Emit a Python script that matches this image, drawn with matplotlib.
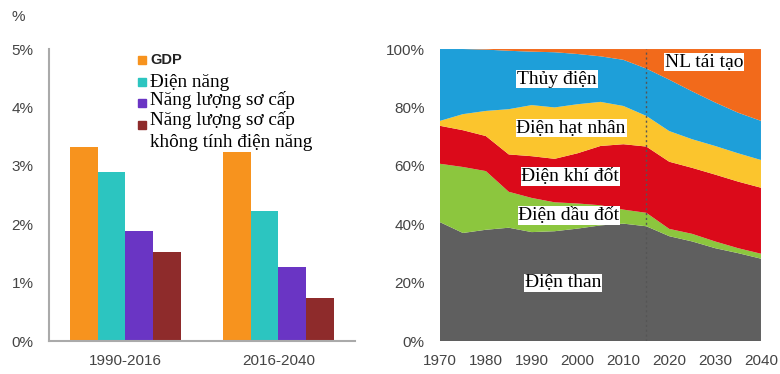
import matplotlib.pyplot as plt
import matplotlib.patches as mpatches
import numpy as np

# left chart: growth rates (%/year)
periods = ['1990-2016', '2016-2040']
gdp = [3.33, 3.23]
dien_nang = [2.89, 2.22]
nl_so_cap = [1.89, 1.26]
nl_khong_dien = [1.53, 0.73]
bar_labels = ['GDP', 'Điện năng', 'Năng lượng sơ cấp', 'Năng lượng sơ cấp\nkhông tính điện năng']
bar_colors = ['#F7931E', '#2CC5C0', '#6A35C4', '#8E2B2B']

# right chart: power generation mix (cumulative share read at top of each layer)
years = [1970, 1975, 1980, 1985, 1990, 1995, 2000, 2005, 2010, 2015, 2020, 2025, 2030, 2035, 2040]
top_than = [40.7, 37.0, 38.1, 38.8, 37.3, 37.6, 38.5, 39.6, 40.2, 39.3, 35.9, 34.1, 31.8, 30.1, 28.2]
top_dau = [60.7, 59.6, 58.2, 51.1, 49.0, 47.5, 47.1, 46.5, 45.0, 43.9, 38.4, 36.7, 34.1, 31.8, 29.9]
top_khi = [73.7, 72.2, 70.2, 63.9, 63.3, 62.4, 64.3, 66.8, 67.4, 66.6, 61.4, 59.3, 57.0, 54.6, 52.5]
top_hat_nhan = [75.4, 77.7, 78.8, 79.4, 80.8, 80.0, 81.1, 81.9, 80.5, 77.1, 71.9, 69.1, 66.8, 64.3, 62.0]
top_thuy = [100, 100, 99.8, 99.4, 99.1, 98.9, 98.3, 97.5, 96.3, 93.3, 89.5, 85.5, 81.7, 78.2, 75.4]
top_tai_tao = [100] * len(years)
mix_labels = ['Điện than', 'Điện dầu đốt', 'Điện khí đốt', 'Điện hạt nhân', 'Thủy điện', 'NL tái tạo']
mix_colors = ['#5F5F5F', '#8CC63E', '#DB0A1A', '#FBC52D', '#1E9FD9', '#F26A1B']

fig = plt.figure(figsize=(7.8, 3.74), dpi=100)
tick_font = dict(family='Liberation Sans', size=11, color='#444444')

# ---- left: bars
ax1 = fig.add_axes([0.0628, 0.0882, 0.3923, 0.7807])
x = np.arange(len(periods))
w = 0.18
series = [gdp, dien_nang, nl_so_cap, nl_khong_dien]
for i, vals in enumerate(series):
    ax1.bar(x + (i - 1.5) * w, vals, w, color=bar_colors[i], label=bar_labels[i])
ax1.set_xlim(-0.5, 1.5)
ax1.set_ylim(0, 5)
ax1.set_yticks([0, 1, 2, 3, 4, 5])
ax1.set_yticklabels(['%d%%' % v for v in range(6)], **tick_font)
ax1.set_xticks(x)
ax1.set_xticklabels(periods, **tick_font)
ax1.tick_params(axis='y', length=0, pad=11)
ax1.tick_params(axis='x', length=0, pad=9)
for s in ['top', 'right']:
    ax1.spines[s].set_visible(False)
for s in ['left', 'bottom']:
    ax1.spines[s].set_color('#AAAAAA')
    ax1.spines[s].set_linewidth(1.5)
fig.text(18 / 780, 1 - 17 / 374, '%', ha='center', va='center', **tick_font)

# hand-made legend (marker aligned to first line)
mark_y = [0.962, 0.887, 0.815, 0.74]
base_y = [0.9486, 0.871, 0.808, 0.740]
line_step = 0.075
for i, lab in enumerate(bar_labels):
    ax1.add_patch(mpatches.Rectangle((0.291, mark_y[i] - 0.014), 0.026, 0.028,
                                     color=bar_colors[i], transform=ax1.transAxes, clip_on=False))
    if i == 0:
        ax1.text(0.33, base_y[i], lab, transform=ax1.transAxes, va='baseline', ha='left',
                 family='Liberation Sans', weight='bold', size=10.5, color='#222222')
    else:
        for k, line in enumerate(lab.split('\n')):
            ax1.text(0.33, base_y[i] - k * line_step, line, transform=ax1.transAxes, va='baseline',
                     ha='left', family='Liberation Serif', size=13.8, color='black')

# ---- right: stacked area
ax2 = fig.add_axes([0.5641, 0.0882, 0.4115, 0.7807])
tops = [top_than, top_dau, top_khi, top_hat_nhan, top_thuy, top_tai_tao]
layers = [np.array(tops[0])] + [np.array(tops[i]) - np.array(tops[i - 1]) for i in range(1, len(tops))]
ax2.stackplot(years, layers, colors=mix_colors, linewidth=0)
ax2.axvline(2015, color='#555555', linestyle=(0, (1.5, 2)), linewidth=1)
ax2.set_xlim(1970, 2040)
ax2.set_ylim(0, 100)
ax2.set_xticks(range(1970, 2041, 10))
ax2.set_xticklabels([str(v) for v in range(1970, 2041, 10)], **tick_font)
ax2.set_yticks(range(0, 101, 20))
ax2.set_yticklabels(['%d%%' % v for v in range(0, 101, 20)], **tick_font)
ax2.tick_params(axis='y', length=0, pad=11)
ax2.tick_params(axis='x', length=0, pad=9)
for s in ax2.spines.values():
    s.set_visible(False)

label_pos = [(1996.8, 19.9), (1998.1, 43.0), (1998.4, 56.4), (1998.6, 72.9), (1995.5, 89.7), (2027.6, 95.5)]
for lab, (lx, ly) in zip(mix_labels, label_pos):
    ax2.text(lx, ly, lab, ha='center', va='center', family='Liberation Serif', size=14,
             color='black', bbox=dict(facecolor='white', edgecolor='none', pad=0.5))

fig.savefig('out.png', dpi=100)
